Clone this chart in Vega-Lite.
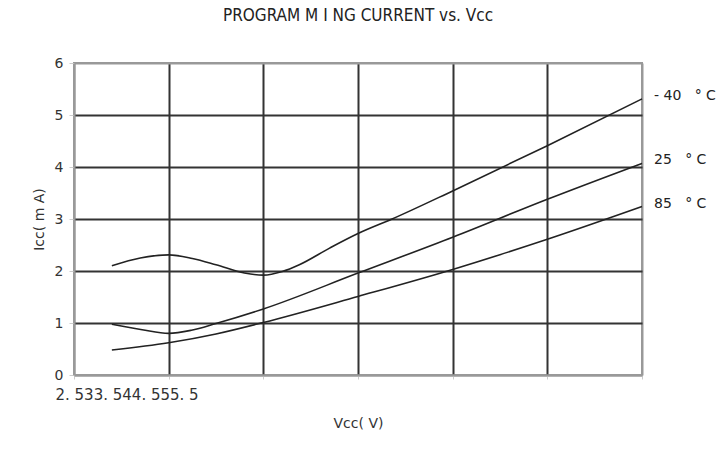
{
  "$schema": "https://vega.github.io/schema/vega-lite/v6.json",
  "width": 568,
  "height": 312,
  "autosize": {"type": "none"},
  "padding": {"left": 74, "top": 63, "right": 78, "bottom": 74},
  "background": "white",
  "title": {
    "text": "PROGRAM M I NG CURRENT vs. Vᴄᴄ",
    "font": "Liberation Sans Narrow, DejaVu Sans Condensed, Liberation Sans",
    "fontSize": 17,
    "fontWeight": "normal",
    "color": "#222",
    "anchor": "middle",
    "offset": 31
  },
  "config": {
    "view": {"stroke": "#999", "strokeWidth": 2},
    "font": "DejaVu Sans"
  },
  "datasets": {
    "curves": [
      {"temp": "-40", "v": 2.7, "i": 2.10},
      {"temp": "-40", "v": 2.85, "i": 2.25},
      {"temp": "-40", "v": 3.0, "i": 2.31},
      {"temp": "-40", "v": 3.125, "i": 2.24},
      {"temp": "-40", "v": 3.25, "i": 2.12},
      {"temp": "-40", "v": 3.4, "i": 1.96},
      {"temp": "-40", "v": 3.5, "i": 1.92},
      {"temp": "-40", "v": 3.6, "i": 1.99},
      {"temp": "-40", "v": 3.69, "i": 2.12},
      {"temp": "-40", "v": 3.85, "i": 2.44},
      {"temp": "-40", "v": 4.0, "i": 2.72},
      {"temp": "-40", "v": 4.18, "i": 3.0},
      {"temp": "-40", "v": 4.5, "i": 3.54},
      {"temp": "-40", "v": 5.0, "i": 4.41},
      {"temp": "-40", "v": 5.5, "i": 5.31},
      {"temp": "25", "v": 2.7, "i": 0.975},
      {"temp": "25", "v": 2.86, "i": 0.87},
      {"temp": "25", "v": 3.0, "i": 0.80},
      {"temp": "25", "v": 3.12, "i": 0.86},
      {"temp": "25", "v": 3.25, "i": 0.99},
      {"temp": "25", "v": 3.5, "i": 1.27},
      {"temp": "25", "v": 4.0, "i": 1.96},
      {"temp": "25", "v": 4.5, "i": 2.65},
      {"temp": "25", "v": 5.0, "i": 3.38},
      {"temp": "25", "v": 5.5, "i": 4.07},
      {"temp": "85", "v": 2.7, "i": 0.48},
      {"temp": "85", "v": 3.0, "i": 0.62},
      {"temp": "85", "v": 3.25, "i": 0.79},
      {"temp": "85", "v": 3.5, "i": 1.01},
      {"temp": "85", "v": 4.0, "i": 1.51},
      {"temp": "85", "v": 4.5, "i": 2.03},
      {"temp": "85", "v": 5.0, "i": 2.61},
      {"temp": "85", "v": 5.5, "i": 3.24}
    ],
    "labels": [
      {"label": "- 40\u00a0\u00a0\u00a0°\u00a0C", "v": 5.5, "i": 5.31},
      {"label": "25\u00a0\u00a0\u00a0°\u00a0C", "v": 5.5, "i": 4.07},
      {"label": "85\u00a0\u00a0\u00a0°\u00a0C", "v": 5.5, "i": 3.24}
    ]
  },
  "encoding": {
    "x": {
      "field": "v",
      "type": "quantitative",
      "scale": {"domain": [2.5, 5.5], "nice": false, "zero": false},
      "axis": {
        "title": "Vᴄᴄ( V)",
        "titleFont": "DejaVu Sans",
        "titleFontSize": 14,
        "titleFontWeight": "normal",
        "titleColor": "#333",
        "titlePadding": 14,
        "values": [2.5, 3, 3.5, 4, 4.5, 5, 5.5],
        "labelExpr": "datum.value == 2.5 ? '2. 533. 544. 555. 5' : ''",
        "labelAlign": "left",
        "labelOffset": -19,
        "labelFontSize": 15,
        "labelColor": "#333",
        "labelOverlap": false,
        "labelFlush": false,
        "labelPadding": 8,
        "domainColor": "#999",
        "domainWidth": 2,
        "tickColor": "#ccc",
        "tickSize": 4,
        "gridColor": {"condition": {"test": "datum.value == 2.5 || datum.value == 5.5", "value": "#999"}, "value": "#333"},
        "gridWidth": 2,
        "gridOpacity": 1
      }
    },
    "y": {
      "field": "i",
      "type": "quantitative",
      "scale": {"domain": [0, 6], "nice": false},
      "axis": {
        "title": "Iᴄᴄ( m A)",
        "titleFont": "DejaVu Sans",
        "titleFontSize": 14,
        "titleFontWeight": "normal",
        "titleColor": "#333",
        "titlePadding": 8,
        "values": [0, 1, 2, 3, 4, 5, 6],
        "labelFontSize": 14,
        "labelColor": "#333",
        "labelPadding": 6,
        "domainColor": "#999",
        "domainWidth": 2,
        "tickColor": "#ccc",
        "tickSize": 5,
        "gridColor": {"condition": {"test": "datum.value == 0 || datum.value == 6", "value": "#999"}, "value": "#333"},
        "gridWidth": 2,
        "gridOpacity": 1
      }
    }
  },
  "layer": [
    {
      "data": {"name": "curves"},
      "mark": {"type": "line", "interpolate": "monotone", "color": "#222", "strokeWidth": 1.6},
      "encoding": {"detail": {"field": "temp", "type": "nominal"}}
    },
    {
      "data": {"name": "labels"},
      "mark": {"type": "text", "align": "left", "baseline": "middle", "dx": 12, "dy": -3, "fontSize": 14, "color": "#222", "font": "DejaVu Sans"},
      "encoding": {"text": {"field": "label", "type": "nominal"}}
    }
  ]
}
